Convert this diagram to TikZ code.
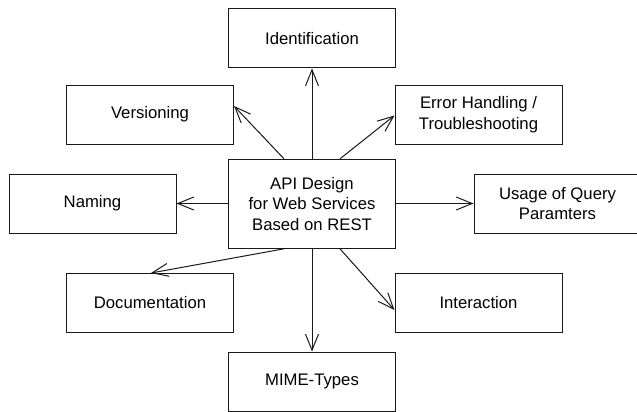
\documentclass[tikz,border=0pt]{standalone}
\usepackage{fontspec}
\setmainfont{Liberation Sans}
\usetikzlibrary{arrows.meta}
\tikzset{
  topic/.style={draw=black!90, line width=1pt, rectangle, minimum width=167pt, minimum height=59pt,
    inner sep=0pt, align=center, font=\fontsize{16.7}{20.5}\selectfont},
  hub/.style={topic, minimum height=89pt},
  link/.style={draw=black!90, line width=1pt, -{Straight Barb[length=16pt,width=13pt,line width=1pt]}}
}
\begin{document}
\begin{tikzpicture}[x=1pt,y=-1pt]
\useasboundingbox (0,0) rectangle (637,412);
\node[hub]   (api)   at (312,203.8) {API Design\\for Web Services\\Based on REST};
\node[topic] (ident) at (312,38.5)   {Identification};
\node[topic] (vers)  at (150,114.5)  {Versioning};
\node[topic] (err)   at (478.5,114.5) {Error Handling /\\Troubleshooting};
\node[topic] (nam)   at (92.5,203.5) {Naming};
\node[topic] (usage) at (557.5,203.5) {Usage of Query\\Paramters};
\node[topic] (doc)   at (150,303)    {Documentation};
\node[topic] (inter) at (478.5,303)  {Interaction};
\node[topic] (mime)  at (312,381.5)  {MIME-Types};
\draw[link] (api.north) -- (ident.south);
\draw[link] ([xshift=-28pt]api.north) -- ([yshift=8.5pt]vers.east);
\draw[link] ([xshift=28pt]api.north) -- ([yshift=-1pt]err.west);
\draw[link] ([yshift=0.3pt]api.west) -- (nam.east);
\draw[link] ([yshift=0.3pt]api.east) -- (usage.west);
\draw[link] ([xshift=-28pt]api.south) -- ([xshift=1pt]doc.north);
\draw[link] (api.south) -- (mime.north);
\draw[link] ([xshift=28pt]api.south) -- ([yshift=-7pt]inter.west);
\end{tikzpicture}
\end{document}
